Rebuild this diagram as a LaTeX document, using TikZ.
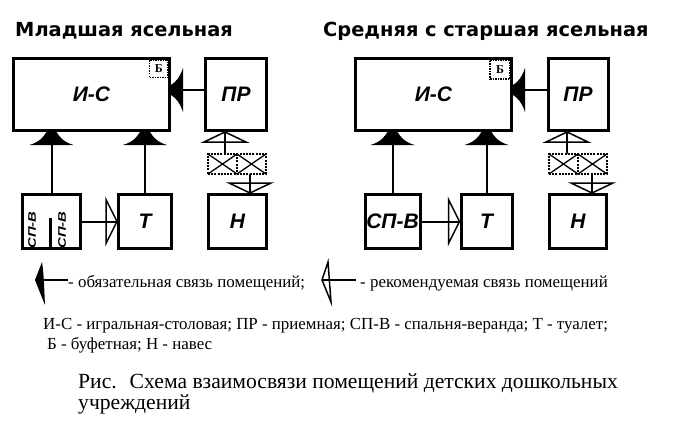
\documentclass[tikz,border=0pt]{standalone}
\usepackage{fontspec}
\setmainfont{Liberation Serif}
\newfontfamily\titlef{DejaVu Sans}
\newfontfamily\boxf{Liberation Sans}
\tikzset{
  room/.style={draw, line width=3pt, inner sep=0pt, font=\boxf\bfseries\itshape\fontsize{21}{21}\selectfont},
  conn/.style={line width=2pt},
  legconn/.style={line width=2.5pt},
  hatchbox/.style={draw, line width=2pt, dash pattern=on 2pt off 1.2pt, outer sep=0pt, inner sep=0pt, minimum width=58pt, minimum height=20pt},
  hatchline/.style={line width=1.3pt},
  hatchmid/.style={line width=2pt, dash pattern=on 2pt off 1.2pt},
  bbox/.style={draw, line width=1.5pt, dash pattern=on 1.5pt off 1pt, outer sep=0pt, inner sep=0pt, font=\bfseries\fontsize{12}{12}\selectfont},
  txt/.style={inner sep=0pt, anchor=base west, font=\fontsize{16.9}{18}\selectfont},
  captxt/.style={inner sep=0pt, anchor=base west, font=\fontsize{21.6}{24}\selectfont},
  titletxt/.style={inner sep=0pt, anchor=base west, font=\titlef\bfseries\fontsize{19.4}{20}\selectfont},
  sptxt/.style={rotate=90, inner sep=0pt, font=\boxf\bfseries\itshape\fontsize{11}{11}\selectfont},
  mustup/.pic={\fill (-5,0) -- (5,0) .. controls (8,5) and (12,10) .. (22,13) -- (-22,13) .. controls (-12,10) and (-8,5) .. (-5,0) -- cycle;},
  mustleft/.pic={\fill (0,-5) -- (0,5) .. controls (5,8) and (9,13) .. (12,22) -- (12,-22) .. controls (9,-13) and (5,-8) .. (0,-5) -- cycle;},
  openup/.pic={\draw[line width=1.5pt] (0,0) -- (-21,10) -- (21,10) -- cycle;},
  opendown/.pic={\draw[line width=1.5pt] (0,0) -- (-21,-10) -- (21,-10) -- cycle;},
  openright/.pic={\draw[line width=1.5pt] (0,0) -- (-11,-22) -- (-11,22) -- cycle;},
  mustleg/.pic={\fill (0,0) -- (7,-18) .. controls (9,-5) and (9,5) .. (10,25) -- cycle;},
  openleg/.pic={\draw[line width=1.5pt] (0,0) -- (6,-18) -- (9,22) -- cycle;},
}
\begin{document}
\begin{tikzpicture}[x=1pt, y=-1pt]
\fill[white] (0,0) rectangle (675,436);
\useasboundingbox (0,0) rectangle (675,436);

% titles
\node[titletxt] (TL) at (15,37) {Младшая ясельная};
\node[titletxt] (TR) at (323,37) {Средняя с старшая ясельная};

% ---------- left diagram ----------
\node[room, minimum width=156pt, minimum height=72pt] (IS1) at (91.5,94.5) {И-С};
\node[room, minimum width=61pt, minimum height=72pt] (PR1) at (236,94.5) {ПР};
\node[room, minimum width=58pt, minimum height=54pt] (SP1) at (51.5,221.5) {};
\node[room, minimum width=53pt, minimum height=54pt] (T1) at (145,221.5) {Т};
\node[room, minimum width=58pt, minimum height=54pt] (N1) at (237.5,221.5) {Н};
\node[hatchbox] (H1) at (237,164) {};
\node[bbox, minimum width=18.5pt, minimum height=17.5pt, anchor=north east] (B1) at ([shift={(-3,3)}]IS1.north east) {Б};
\node[sptxt] (SPa) at ([shift={(-19.5,8.5)}]SP1.center) {\scalebox{1.35}[1]{СП-В}};
\node[sptxt] (SPb) at ([shift={(10.5,8.5)}]SP1.center) {\scalebox{1.35}[1]{СП-В}};
\coordinate (SPd) at ([xshift=-1.5pt]SP1.south);
\draw[line width=3pt] (SPd) -- ([yshift=32pt]SPd);

\draw[conn] (SP1.north) -- (SP1.north |- IS1.south);
\pic at (SP1.north |- IS1.south) {mustup};
\draw[conn] (T1.north) -- (T1.north |- IS1.south);
\pic at (T1.north |- IS1.south) {mustup};
\coordinate (pa1) at ([yshift=4.5pt]PR1.west);
\draw[conn] (pa1) -- (pa1 -| IS1.east);
\pic at (pa1 -| IS1.east) {mustleft};
\draw[conn] (SP1.east) -- (T1.west);
\pic at (T1.west) {openright};
\coordinate (pb1) at ([xshift=-11pt]PR1.south);
\draw[conn] (pb1) -- (pb1 |- H1.north);
\pic at (pb1) {openup};
\coordinate (pc1) at ([xshift=12.5pt]N1.north);
\draw[conn] (pc1 |- H1.south) -- (pc1);
\pic at (pc1) {opendown};
\draw[hatchmid] (H1.north) -- (H1.south);
\draw[hatchline] (H1.north west) -- (H1.south) (H1.south west) -- (H1.north)
                 (H1.north) -- (H1.south east) (H1.south) -- (H1.north east);

% ---------- right diagram ----------
\node[room, minimum width=156pt, minimum height=72pt] (IS2) at (433.5,94.5) {И-С};
\node[room, minimum width=60pt, minimum height=72pt] (PR2) at (578,94.5) {ПР};
\node[room, minimum width=55pt, minimum height=54pt] (SP2) at (392.5,221.5) {СП-В};
\node[room, minimum width=51pt, minimum height=54pt] (T2) at (486.5,221.5) {Т};
\node[room, minimum width=57pt, minimum height=54pt] (N2) at (578,221.5) {Н};
\node[hatchbox] (H2) at (578,164) {};
\node[bbox, minimum width=20pt, minimum height=19pt, anchor=north east] (B2) at ([shift={(-3,3)}]IS2.north east) {Б};

\draw[conn] (SP2.north) -- (SP2.north |- IS2.south);
\pic at (SP2.north |- IS2.south) {mustup};
\draw[conn] (T2.north) -- (T2.north |- IS2.south);
\pic at (T2.north |- IS2.south) {mustup};
\coordinate (pa2) at ([yshift=4.5pt]PR2.west);
\draw[conn] (pa2) -- (pa2 -| IS2.east);
\pic at (pa2 -| IS2.east) {mustleft};
\draw[conn] (SP2.east) -- (T2.west);
\pic at (T2.west) {openright};
\coordinate (pb2) at ([xshift=-11pt]PR2.south);
\draw[conn] (pb2) -- (pb2 |- H2.north);
\pic at (pb2) {openup};
\coordinate (pc2) at ([xshift=14pt]N2.north);
\draw[conn] (pc2 |- H2.south) -- (pc2);
\pic at (pc2) {opendown};
\draw[hatchmid] (H2.north) -- (H2.south);
\draw[hatchline] (H2.north west) -- (H2.south) (H2.south west) -- (H2.north)
                 (H2.north) -- (H2.south east) (H2.south) -- (H2.north east);

% ---------- legend ----------
\coordinate (LA) at (35,280);
\node[txt] (LT1) at (68,287) {- обязательная связь помещений;};
\draw[legconn] (LA) -- (LT1.west |- LA);
\pic at (LA) {mustleg};
\coordinate (LB) at (322,280);
\node[txt] (LT2) at (360,287) {- рекомендуемая связь помещений};
\coordinate (LBe) at ([xshift=-4pt]LT2.west);
\draw[legconn] (LB) -- (LBe |- LB);
\pic at (LB) {openleg};

\node[txt] (K1) at (43,329) {И-С - игральная-столовая; ПР - приемная; СП-В - спальня-веранда; Т - туалет;};
\node[txt] (K2) at (47,349) {Б - буфетная; Н - навес};
\node[captxt] (C1) at (78,388) {Рис.\hspace{13pt}Схема взаимосвязи помещений детских дошкольных};
\node[captxt] (C2) at (78,409) {учреждений};
\end{tikzpicture}
\end{document}
